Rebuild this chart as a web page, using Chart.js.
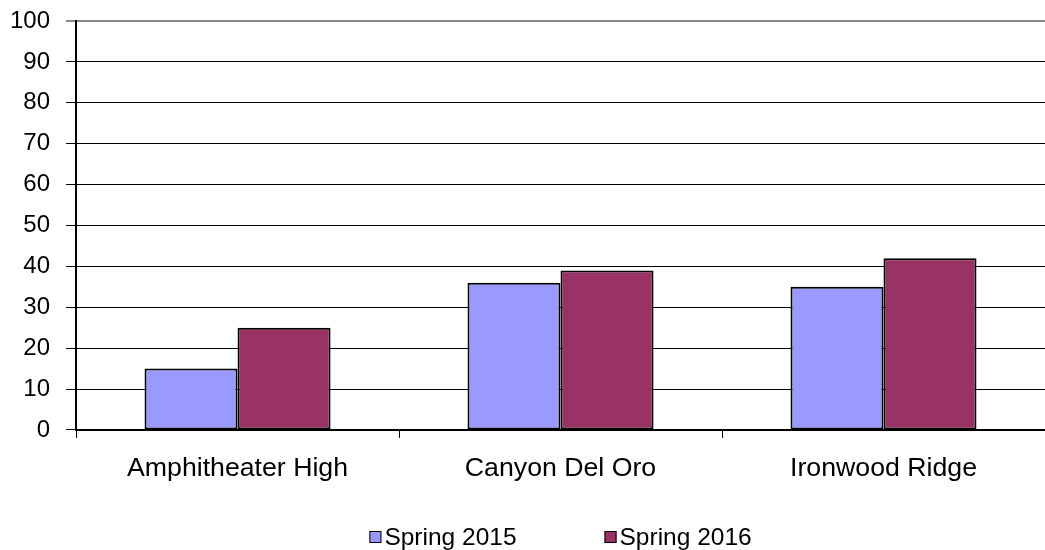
<!DOCTYPE html>
<html>
<head>
<meta charset="utf-8">
<script src="https://cdn.jsdelivr.net/npm/chart.js@4"></script>
<style>
  html, body { margin: 0; padding: 0; background: #fff; }
  #wrap { width: 1045px; height: 550px; }
</style>
</head>
<body>
<div id="wrap"><canvas id="myChart"></canvas></div>
<script>
const categories = ['Amphitheater High', 'Canyon Del Oro', 'Ironwood Ridge']
const spring2015 = [15, 36, 35]
const spring2016 = [25, 39, 42]
const yTicks = [0, 10, 20, 30, 40, 50, 60, 70, 80, 90, 100]

;(() => {
  'use strict'
  const FONT = '"Liberation Sans", Arial, sans-serif'
  Chart.defaults.font.family = FONT
  Chart.defaults.color = '#000'

  // Excel-style legend: tiny gap between box and text, wide gap between items
  const bottomLegend = {
    id: 'bottomLegend',
    afterDraw (chart) {
      const c = chart.ctx
      const area = chart.chartArea
      const box = 12
      const gap = 3
      const itemGap = 88
      c.save()
      c.font = '24.5px ' + FONT
      c.textBaseline = 'middle'
      const items = chart.data.datasets.map(ds => ({
        ds, w: box + gap + c.measureText(ds.label).width
      }))
      const total = items.reduce((s, it) => s + it.w, 0) + itemGap * (items.length - 1)
      let x = (area.left + area.right) / 2 - total / 2
      const y = chart.height - 13
      items.forEach(it => {
        c.fillStyle = it.ds.backgroundColor
        c.fillRect(x, y - box / 2, box, box)
        c.strokeStyle = '#000'
        c.lineWidth = 1
        c.strokeRect(x + 0.5, y - box / 2 + 0.5, box - 1, box - 1)
        c.fillStyle = '#000'
        c.fillText(it.ds.label, x + box + gap, y + 1)
        x += it.w + itemGap
      })
      c.restore()
    }
  }

  const ctx = document.getElementById('myChart')
  // eslint-disable-next-line no-unused-vars
  const myChart = new Chart(ctx, {
    type: 'bar',
    data: {
      labels: categories,
      datasets: [{
        label: 'Spring 2015',
        data: spring2015,
        backgroundColor: '#9999ff',
        borderColor: '#000',
        borderWidth: 2,
        borderSkipped: false
      }, {
        label: 'Spring 2016',
        data: spring2016,
        backgroundColor: '#993366',
        borderColor: '#000',
        borderWidth: 2,
        borderSkipped: false
      }]
    },
    options: {
      responsive: true,
      maintainAspectRatio: false,
      animation: false,
      layout: { padding: { top: 0, right: 0, left: -6, bottom: 50 } },
      datasets: { bar: { categoryPercentage: 0.576, barPercentage: 1 } },
      scales: {
        x: {
          grid: { offset: true, drawOnChartArea: false, color: '#000', tickLength: 8, lineWidth: 1 },
          border: { color: '#000', width: 2 },
          ticks: { font: { size: 26.7 }, padding: 15 }
        },
        y: {
          min: 0,
          max: 100,
          afterBuildTicks: axis => { axis.ticks = yTicks.map(v => ({ value: v })) },
          grid: {
            color: c => (c.tick && c.tick.value === 100 ? '#888' : '#000'),
            lineWidth: c => (c.tick && c.tick.value === 100 ? 2 : 1),
            tickLength: 10
          },
          border: { color: '#000', width: 2 },
          // small lineHeight keeps the top label from pushing the plot down
          ticks: { font: { size: 24, lineHeight: 0.42 }, padding: 16 }
        }
      },
      plugins: {
        legend: { display: false },
        tooltip: { enabled: false }
      }
    },
    plugins: [bottomLegend]
  })
})()
</script>
</body>
</html>
